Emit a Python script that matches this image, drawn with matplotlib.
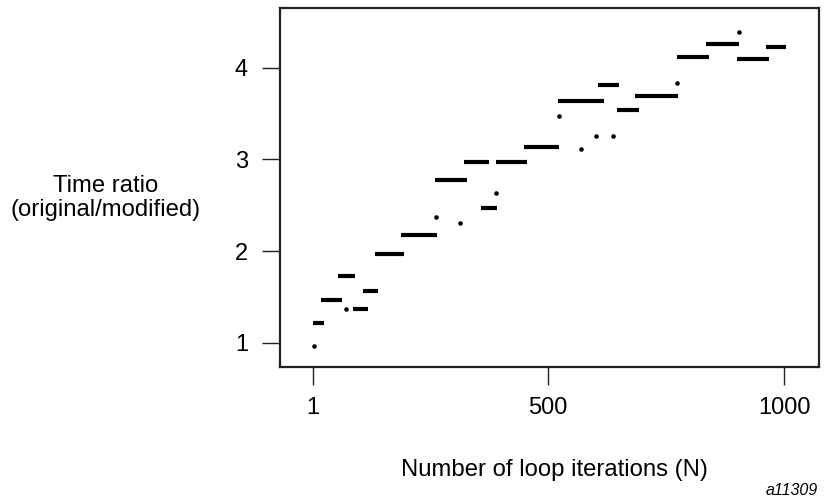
import matplotlib
matplotlib.use("Agg")
import matplotlib.pyplot as plt

plt.rcParams['font.family'] = ['Liberation Sans', 'DejaVu Sans']

# Horizontal runs of (nearly) constant ratio: start N, end N, ratio
seg_start = [1, 19, 55, 86, 108, 133, 188, 260, 322, 358, 389, 449, 521, 605, 646, 684, 773, 835, 900, 962]
seg_end   = [25, 63, 91, 118, 139, 194, 264, 328, 374, 392, 455, 523, 618, 650, 692, 775, 841, 905, 968, 1004]
seg_ratio = [1.215, 1.466, 1.728, 1.368, 1.564, 1.968, 2.175, 2.775, 2.971, 2.469, 2.971, 3.135, 3.640,
             3.811, 3.539, 3.686, 4.117, 4.259, 4.095, 4.226]

# Isolated points
pt_n     = [3, 72, 262, 313, 389, 523, 569, 601, 637, 773, 903]
pt_ratio = [0.96, 1.368, 2.371, 2.306, 2.636, 3.473, 3.113, 3.255, 3.255, 3.833, 4.389]

x_ticks = [1, 500, 1000]
y_ticks = [1, 2, 3, 4]

W, H = 830, 498
fig = plt.figure(figsize=(W / 100, H / 100), dpi=100)
ax = fig.add_axes([280 / W, 1 - 366.7 / H, (819 - 280) / W, (366.7 - 8) / H])

ax.hlines(seg_ratio, seg_start, seg_end, colors='black', linewidth=3.0, capstyle='butt')
ax.plot(pt_n, pt_ratio, 'o', color='black', markersize=3.3, markeredgewidth=0)

ax.set_xlim(-68.3, 1073.5)
ax.set_ylim(0.738, 4.651)
ax.set_xticks(x_ticks)
ax.set_xticklabels([str(v) for v in x_ticks])
ax.set_yticks(y_ticks)
ax.set_yticklabels([str(v) for v in y_ticks])

for s in ax.spines.values():
    s.set_linewidth(1.6)
    s.set_color('#222222')
ax.tick_params(axis='both', direction='out', length=13, width=1.0, color='#222222',
               labelsize=17, labelcolor='black')
ax.tick_params(axis='y', pad=10)
ax.tick_params(axis='x', pad=9)

fig.text(106 / W, 1 - 198 / H, "Time ratio\n(original/modified)", ha='center', va='center',
         multialignment='center', fontsize=17.2, linespacing=1.1)
fig.text(554 / W, 1 - 470 / H, "Number of loop iterations (N)", ha='center', va='center', fontsize=17.2)
fig.text(818 / W, 1 - 490 / H, "a11309", ha='right', va='center', fontsize=11.5, style='italic')

fig.savefig("out.png", dpi=100)
